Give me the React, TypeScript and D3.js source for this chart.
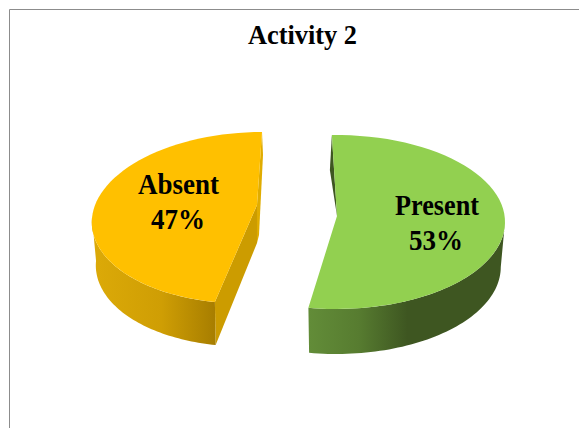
import React from "react";
import * as d3 from "d3";

const categories = ["Absent", "Present"];
const shares = [47, 53];
const faceColors = ["#ffc000", "#92d050"];
const chartTitle = "Activity 2";

// Each wedge is pulled away from the pie centre and has its own projection.
// The apex sits off the ellipse centre, which gives the tilted perspective.
const wedgeLayout = [
  { cx: 253.5, cy: 217.8, rx: 161.5, ry: 85.8, shear: 8.5, from: 190.8, apexX: 257, apexY: 205, depth: 43 },
  { cx: 336, cy: 222, rx: 169, ry: 87, shear: 0, from: -1.4, apexX: 337, apexY: 216, depth: 45 },
];
const lowerScale = 0.975;
const deg = Math.PI / 180;

type W = (typeof wedgeLayout)[number];

function rim(w: W, a: number, lower: boolean): [number, number] {
  const k = lower ? lowerScale : 1;
  const r = a * deg;
  return [
    w.cx + w.rx * k * Math.sin(r) + w.shear * Math.cos(r),
    w.cy - w.ry * Math.cos(r) + (lower ? w.depth : 0),
  ];
}

function arcPoints(w: W, a0: number, a1: number, lower: boolean) {
  const scale = d3.scaleLinear().domain([0, 60]).range([a0, a1]);
  return d3.range(61).map((i) => rim(w, scale(i), lower));
}

const line = d3.line();

export default function App() {
  const total = d3.sum(shares);
  const spans = shares.map((v) => (v / total) * 360);

  return (
    <svg
      width={579}
      height={428}
      style={{ position: "absolute", left: 0, top: 0, background: "#fff" }}
      fontFamily="'Liberation Serif', serif"
      fontWeight="bold"
    >
      <defs>
        <linearGradient id="sideAbsent" gradientUnits="userSpaceOnUse" x1={92} x2={218} y1={0} y2={0}>
          <stop offset="0" stopColor="#dcaa08" />
          <stop offset="0.55" stopColor="#cf9e04" />
          <stop offset="1" stopColor="#a57c00" />
        </linearGradient>
        <linearGradient id="sidePresent" gradientUnits="userSpaceOnUse" x1={310} x2={505} y1={0} y2={0}>
          <stop offset="0" stopColor="#628c38" />
          <stop offset="0.25" stopColor="#577c30" />
          <stop offset="0.5" stopColor="#3e5621" />
          <stop offset="1" stopColor="#3e5621" />
        </linearGradient>
      </defs>

      <path d="M9.5 428V9.5H579" fill="none" stroke="#8c8c8c" strokeWidth={1} />
      <text x={302.5} y={44} textAnchor="middle" fontSize={28} textLength={109} lengthAdjust="spacingAndGlyphs">
        {chartTitle}
      </text>

      {categories.map((name, i) => {
        const w = wedgeLayout[i];
        const a0 = w.from;
        const a1 = w.from + spans[i];
        const apexTop: [number, number] = [w.apexX, w.apexY];
        const apexLow: [number, number] = [w.apexX, w.apexY + (i === 0 ? 38 : 0)];
        const isAbsent = i === 0;

        // Outer wall: only the front-facing stretch of the rim is visible.
        const wall = isAbsent
          ? [...arcPoints(w, a0, 270, false), ...arcPoints(w, 270, a0, true)]
          : [...arcPoints(w, 90, a1, false), ...arcPoints(w, a1, 90, true)];

        const face = [apexTop, ...arcPoints(w, a0, a1, false)];
        const backTop = rim(w, isAbsent ? a1 : a0, false);

        return (
          <g key={name}>
            {isAbsent ? (
              <>
                <path
                  d={line([backTop, [backTop[0] + 1, backTop[1] + 23], [backTop[0] - 3, backTop[1] + 103], apexLow, apexTop]) + "Z"}
                  fill="#e0ac00"
                />
                <path
                  d={line([apexTop, rim(w, a0, false), rim(w, a0, true), apexLow]) + "Z"}
                  fill="#cc9c00"
                />
              </>
            ) : (
              <path
                d={line([backTop, [backTop[0] - 2, backTop[1] + 35], apexTop]) + "Z"}
                fill="#3e5621"
              />
            )}
            <path d={line(wall) + "Z"} fill={`url(#side${name})`} />
            <path d={line(face) + "Z"} fill={faceColors[i]} />
          </g>
        );
      })}

      <g fontSize={29} textAnchor="middle">
        <text x={178.5} y={194} textLength={81} lengthAdjust="spacingAndGlyphs">{categories[0]}</text>
        <text x={178} y={229} textLength={54} lengthAdjust="spacingAndGlyphs">{shares[0]}%</text>
        <text x={437} y={215} textLength={84} lengthAdjust="spacingAndGlyphs">{categories[1]}</text>
        <text x={436} y={250} textLength={54} lengthAdjust="spacingAndGlyphs">{shares[1]}%</text>
      </g>
    </svg>
  );
}
